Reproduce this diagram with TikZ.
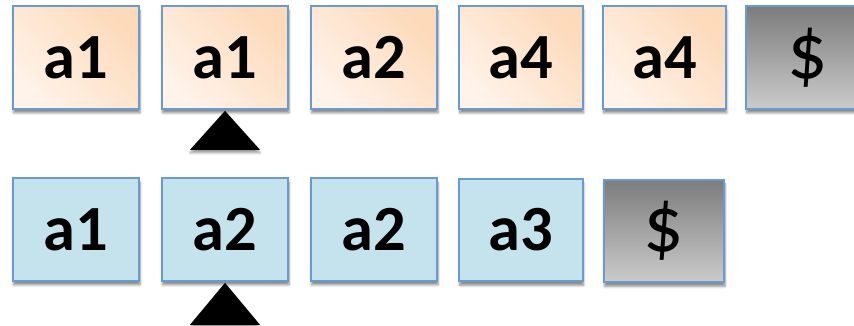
\documentclass[tikz,border=0pt]{standalone}
\usepackage{fontspec}
\setmainfont{Carlito}
\usepackage{tikz}
\usetikzlibrary{shadows.blur,calc}
\definecolor{edge}{HTML}{6A9BD0}
\definecolor{peachL}{HTML}{FFF3EA}
\definecolor{peachD}{HTML}{FDDABA}
\definecolor{iceblue}{HTML}{C5E3EC}
\definecolor{greyD}{HTML}{7C7C7C}
\definecolor{greyL}{HTML}{CBCBCB}

\begin{document}
\begin{tikzpicture}[
      x=0.03cm, y=-0.03cm,
      every node/.style={font=\fontsize{55}{60}\selectfont\bfseries},
      cell/.style={draw=edge, line width=1.7pt, minimum width=3.8cm,
                   minimum height=3.08cm, inner sep=0pt,
                   blur shadow={shadow xshift=0.6pt, shadow yshift=-3.5pt,
                                shadow blur steps=6, shadow opacity=45}},
      tcell/.style={cell, top color=peachD, bottom color=peachL, shading angle=-45},
      bcell/.style={cell, fill=iceblue},
      endcell/.style={cell, top color=greyD, bottom color=greyL,
                      font=\fontsize{68}{70}\selectfont},
      ptr/.style={fill=black,
                  blur shadow={shadow xshift=0pt, shadow yshift=-2.5pt,
                               shadow blur steps=5, shadow opacity=40}}
  ]
    \useasboundingbox (0,0) rectangle (854,325);

    % --- First string ---
    \node[tcell] (t1) at (76, 57.5)  {a1};
    \node[tcell] (t2) at (225, 57.5) {a1};
    \node[tcell] (t3) at (374, 57.5) {a2};
    \node[tcell, minimum width=3.72cm] (t4) at (521, 57.5) {a4};
    \node[tcell, minimum width=3.7cm] (t5) at (664.5, 57.5) {a4};
    \node[endcell, minimum width=3.72cm] (t6) at (808, 57.5) {\$};

    % --- Second string ---
    \node[bcell] (b1) at (76, 229.5)  {a1};
    \node[bcell] (b2) at (225, 229.5) {a2};
    \node[bcell] (b3) at (374, 229.5) {a2};
    \node[bcell, minimum width=3.72cm] (b4) at (521, 230) {a3};
    \node[endcell, minimum width=3.62cm] (b5) at (664, 231) {\$};

    % --- Pointers under the current symbols ---
    \fill[ptr] ($(t2.south)+(0,1)$) -- ++(35,39) -- ++(-70,0) -- cycle;
    \fill[ptr] ($(b2.south)+(0,1)$) -- ++(35,42) -- ++(-70,0) -- cycle;

  \end{tikzpicture}
\end{document}
